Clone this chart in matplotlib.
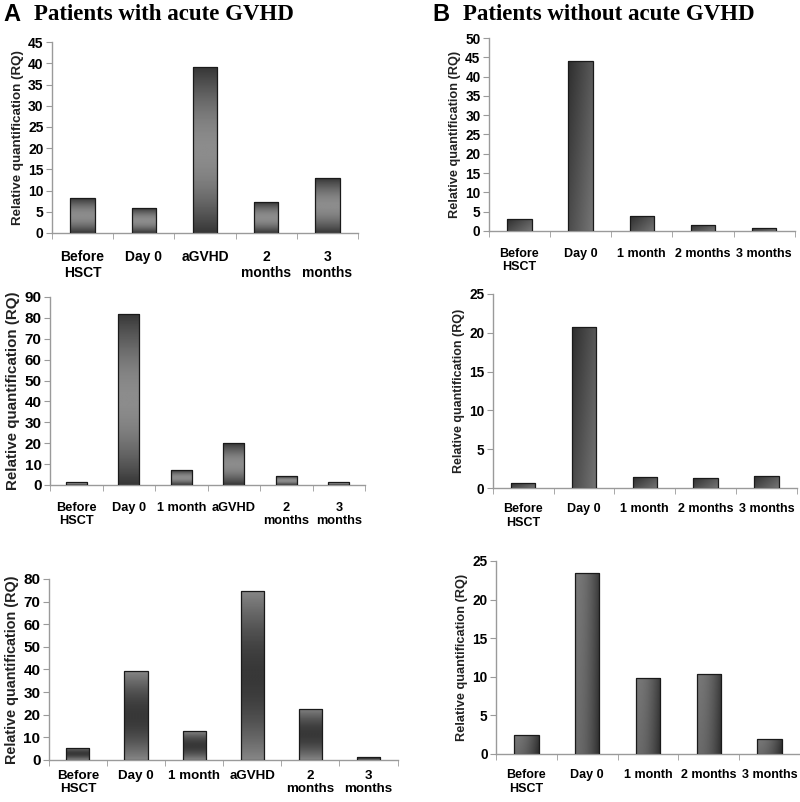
import numpy as np
import matplotlib.pyplot as plt

# panel A: patients with acute GVHD
a1_labels = ['Before\nHSCT', 'Day 0', 'aGVHD', '2\nmonths', '3\nmonths']
a1_values = [8.2, 5.8, 39.1, 7.2, 12.9]
a2_labels = ['Before\nHSCT', 'Day 0', '1 month', 'aGVHD', '2\nmonths', '3\nmonths']
a2_values = [1.5, 82.0, 7.0, 20.0, 4.3, 1.5]
a3_labels = ['Before\nHSCT', 'Day 0', '1 month', 'aGVHD', '2\nmonths', '3\nmonths']
a3_values = [5.5, 39.3, 12.6, 74.5, 22.6, 1.3]

# panel B: patients without acute GVHD
b_labels = ['Before\nHSCT', 'Day 0', '1 month', '2 months', '3 months']
b1_values = [3.0, 44.1, 3.8, 1.6, 0.8]
b2_values = [0.7, 20.8, 1.4, 1.3, 1.6]
b3_values = [2.4, 23.4, 9.8, 10.3, 1.9]

plt.rcParams['font.family'] = ['Liberation Sans', 'DejaVu Sans']

fig = plt.figure(figsize=(8, 8.02), dpi=100)


def grad_img(kind):
    n = 64
    t = np.linspace(0, 1, n)
    if kind == 'dld':      # dark - light - dark (vertical)
        v = 0.22 + 0.33 * np.sin(np.pi * t)
        img = np.tile(v[:, None], (1, n))
    elif kind == 'ldl':    # light - dark - light (vertical)
        v = 0.52 - 0.30 * np.sin(np.pi * t)
        img = np.tile(v[:, None], (1, n))
    elif kind == 'diag':   # dark top-left to lighter bottom-right
        xx, yy = np.meshgrid(t, t)
        img = 0.18 + 0.28 * (xx * 0.6 + yy * 0.4)
    else:                  # lighter left, dark right
        xx, yy = np.meshgrid(t, t)
        img = 0.42 - 0.25 * xx ** 2 + 0.05 * (1 - yy)
    return img


def panel(rect, labels, values, ymax, ystep, kind, xfs, yfs, lfs, pad, ls=1.2):
    ax = fig.add_axes(rect)
    n = len(labels)
    x = np.arange(n)
    bars = ax.bar(x, values, width=0.4, color='none', edgecolor='#1a1a1a',
                  linewidth=0.9, zorder=3)
    img = grad_img(kind)
    for b in bars:
        x0, w, h = b.get_x(), b.get_width(), b.get_height()
        im = ax.imshow(img, cmap='gray', vmin=0, vmax=1, aspect='auto',
                       extent=[x0, x0 + w, 0, h], origin='upper', zorder=2)
        im.set_clip_path(b)
    ax.set_xlim(-0.5, n - 0.5)
    ax.set_ylim(0, ymax)
    ax.set_yticks(np.arange(0, ymax + 0.1, ystep))
    ax.set_xticks(x)
    ax.set_xticklabels(labels, fontsize=xfs, fontweight='bold', linespacing=ls)
    ax.set_xticks(np.arange(-0.5, n, 1), minor=True)
    ax.tick_params(axis='x', which='major', length=0, pad=pad)
    ax.tick_params(axis='x', which='minor', length=4, color='#9a9a9a', direction='out')
    ax.tick_params(axis='y', length=4, color='#9a9a9a', labelsize=yfs, pad=2)
    for t in ax.get_yticklabels():
        t.set_fontweight('bold')
    for s in ['top', 'right']:
        ax.spines[s].set_visible(False)
    for s in ['left', 'bottom']:
        ax.spines[s].set_color('#9a9a9a')
        ax.spines[s].set_linewidth(1.0)
    ax.set_ylabel('Relative quantification (RQ)', fontsize=lfs, fontweight='bold',
                  color='#222222', labelpad=3)
    return ax


panel([0.065, 0.7095, 0.3825, 0.238], a1_labels, a1_values, 45, 5, 'dld', 10, 10, 9.6, 12)
panel([0.611, 0.712, 0.3825, 0.2406], b_labels, b1_values, 50, 5, 'diag', 9, 9.8, 9.2, 12)
panel([0.0625, 0.3953, 0.394, 0.2344], a2_labels, a2_values, 90, 10, 'dld', 9.2, 11, 10.9, 12)
panel([0.616, 0.3915, 0.38, 0.242], b_labels, b2_values, 25, 5, 'diag', 9, 9.8, 9, 11)
panel([0.061, 0.0524, 0.436, 0.2257], a3_labels, a3_values, 80, 10, 'ldl', 9.6, 11, 10.4, 7, 1.1)
panel([0.62, 0.0599, 0.38, 0.2406], b_labels, b3_values, 25, 5, 'side', 9, 9.8, 9.2, 11)

fig.text(0.004, 0.982, 'A', fontsize=17, fontweight='bold', va='center', ha='left')
fig.text(0.043, 0.982, 'Patients with acute GVHD', fontsize=16.5, fontweight='bold',
         family='Liberation Serif', va='center', ha='left')
fig.text(0.541, 0.982, 'B', fontsize=17, fontweight='bold', va='center', ha='left')
fig.text(0.579, 0.982, 'Patients without acute GVHD', fontsize=16.5, fontweight='bold',
         family='Liberation Serif', va='center', ha='left')

fig.savefig('out.png', dpi=100)
